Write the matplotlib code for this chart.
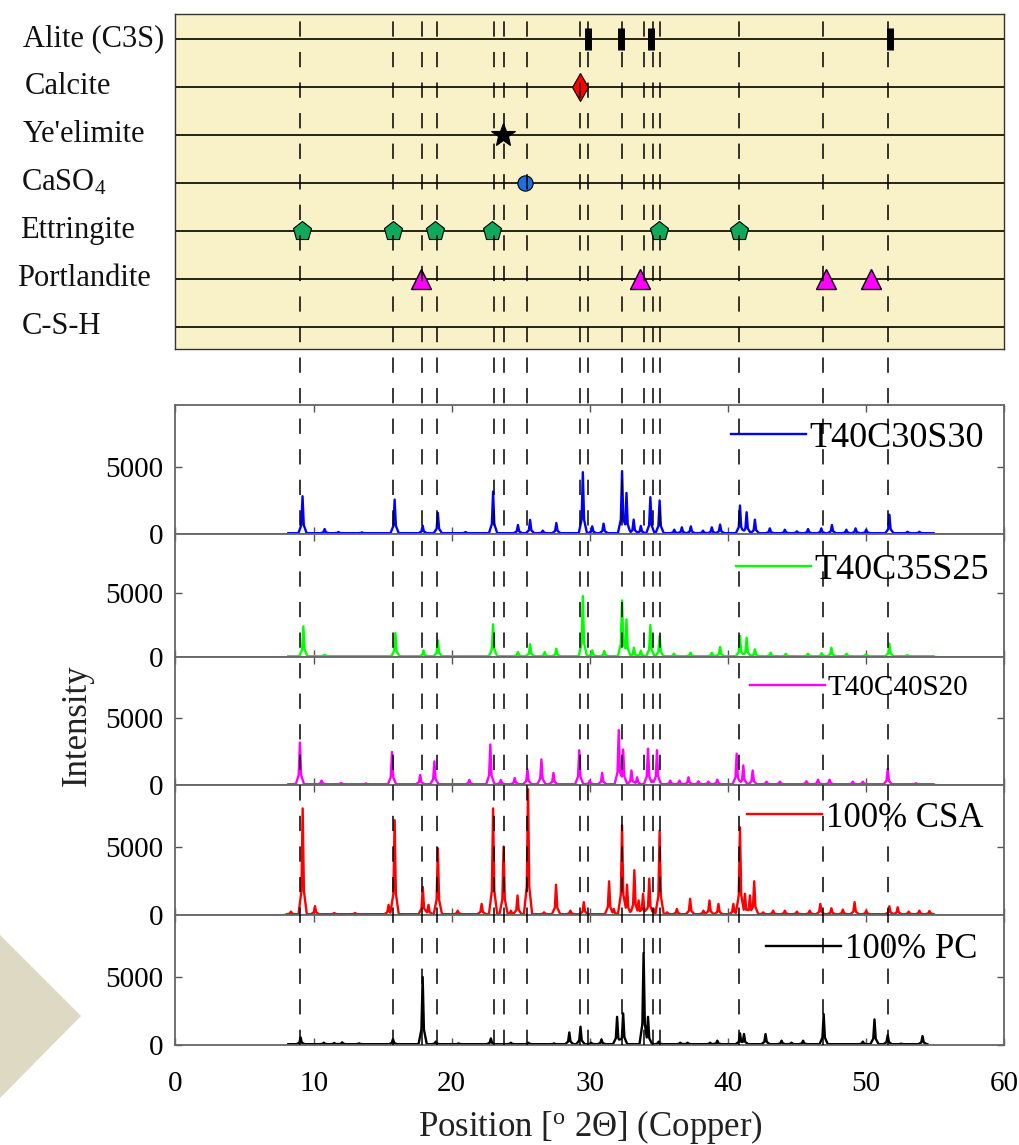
import matplotlib
matplotlib.use('Agg')
import matplotlib.pyplot as plt
import matplotlib.transforms as mtransforms
from matplotlib.patches import Polygon
import numpy as np

plt.rcParams['font.family'] = ['Liberation Serif', 'DejaVu Serif']
plt.rcParams['mathtext.fontset'] = 'custom'
plt.rcParams['mathtext.rm'] = 'Liberation Serif'
plt.rcParams['mathtext.it'] = 'Liberation Serif:italic'

##############################################################################
# Phase reference positions (degrees 2-theta)

phase_names = ['Alite (C3S)', 'Calcite', "Ye'elimite", r'CaSO$_{\mathrm{4}}$',
               'Ettringite', 'Portlandite', 'C-S-H']
alite = [29.85, 32.23, 34.42, 51.74]
calcite = [29.33]
yeelimite = [23.75]
caso4 = [25.3]
ettringite = [9.13, 15.74, 18.79, 22.93, 35.05, 40.79]
portlandite = [17.77, 33.64, 47.13, 50.4]
csh = []

ref_lines = [9.05, 15.75, 17.84, 18.93, 23.06, 23.76, 25.44, 29.28, 29.84,
             32.34, 33.95, 34.55, 35.1, 40.83, 46.89, 51.6]

##############################################################################
# Peak positions / intensities

t30_pos = [9.2, 10.8, 11.8, 13.5, 15.87, 17.9, 19.0, 21.0, 23.0, 24.8, 25.68,
           26.6, 27.58, 29.5, 30.18, 31.0, 32.34, 32.66, 33.18, 33.7, 34.39,
           35.06, 36.12, 36.67, 37.32, 38.2, 38.84, 39.44, 40.88, 41.36, 41.96,
           43.04, 44.13, 45.0, 45.81, 46.77, 47.54, 48.58, 49.25, 50.02, 51.7,
           53.02, 53.87]
t30_int = [2810, 370, 150, 120, 2560, 620, 1570, 150, 3160, 670, 1050,
           250, 820, 4600, 570, 770, 4680, 3060, 1070, 600, 2740,
           2490, 320, 500, 570, 250, 500, 700, 2120, 1620, 1070,
           420, 320, 200, 370, 420, 670, 320, 420, 320, 1440,
           170, 170]

t35_pos = [9.26, 10.8, 15.92, 17.96, 19.0, 23.0, 24.8, 25.68, 26.74, 27.58,
           29.5, 30.18, 31.05, 32.34, 32.66, 33.2, 33.7, 34.39, 35.06, 36.1,
           37.3, 38.84, 39.44, 40.88, 41.36, 41.96, 43.1, 44.2, 45.8, 46.8,
           47.5, 48.6, 50.0, 51.7, 53.0]
t35_int = [2390, 180, 1870, 520, 1300, 2550, 390, 990, 390, 650,
           4760, 520, 470, 4420, 2940, 730, 500, 2500, 1640, 260,
           340, 340, 780, 1640, 1510, 600, 340, 250, 260, 300,
           730, 260, 210, 1040, 150]

t40_pos = [9.01, 10.58, 12.0, 13.8, 15.68, 17.72, 18.75, 21.28, 22.8, 23.56,
           24.57, 25.49, 26.5, 27.37, 29.24, 30.0, 30.9, 32.1, 32.42, 33.02,
           33.43, 34.22, 34.55, 34.87, 35.83, 36.5, 37.15, 37.87, 38.59, 39.24,
           40.64, 41.12, 41.8, 42.8, 43.77, 45.69, 46.53, 47.37, 49.05, 49.78,
           51.58, 53.63]
t40_int = [3190, 330, 150, 120, 2480, 760, 1770, 380, 3040, 380,
           530, 1160, 1920, 910, 2610, 330, 910, 4120, 2660, 1090,
           580, 2730, 330, 2610, 330, 330, 580, 280, 250, 400,
           2350, 1470, 1090, 250, 250, 280, 400, 400, 250, 250,
           1210, 130]

csa_pos = [8.36, 9.21, 10.1, 11.5, 13.0, 15.43, 15.87, 17.91, 18.32, 19.0,
           20.44, 22.17, 23.0, 23.76, 24.29, 24.77, 25.53, 26.69, 27.56, 28.6,
           29.57, 31.4, 31.74, 32.34, 32.7, 33.23, 33.54, 33.86, 34.31, 34.63,
           35.06, 35.6, 36.31, 37.27, 38.23, 38.67, 39.32, 40.4, 40.88, 41.24,
           41.6, 41.91, 42.56, 43.28, 44.13, 45.0, 45.93, 46.7, 47.5, 48.33,
           49.18, 50.02, 51.7, 52.3, 53.1, 53.87, 54.6]
csa_int = [250, 7870, 650, 150, 150, 750, 7000, 2070, 750, 4930,
           320, 820, 7870, 5050, 320, 1440, 9290, 200, 2240, 320,
           950, 2490, 450, 6620, 2240, 3310, 1070, 1570, 2690, 450,
           6220, 200, 450, 1200, 320, 1070, 820, 820, 6470, 1570,
           1440, 2490, 200, 320, 320, 250, 320, 820, 500, 400,
           950, 320, 650, 570, 250, 320, 300]

pc_pos = [9.06, 10.74, 11.5, 12.07, 13.3, 15.75, 17.9, 18.85, 20.5, 22.84,
          24.29, 25.56, 27.41, 28.52, 29.33, 30.1, 30.85, 31.98, 32.42, 33.9,
          34.22, 34.99, 36.55, 37.08, 38.72, 39.24, 40.88, 41.17, 42.73, 43.89,
          44.61, 45.45, 46.94, 49.78, 50.62, 51.58, 52.55, 54.1]
pc_int = [560, 170, 150, 200, 120, 440, 5020, 250, 120, 490,
          170, 170, 120, 930, 1350, 170, 420, 2080, 2330, 6800,
          2080, 250, 170, 170, 170, 320, 860, 810, 810, 320,
          170, 320, 2280, 250, 1890, 740, 100, 660]

samples = ['T40C30S30', 'T40C35S25', 'T40C40S20', '100% CSA', '100% PC']
sample_pos = [t30_pos, t35_pos, t40_pos, csa_pos, pc_pos]
sample_int = [t30_int, t35_int, t40_int, csa_int, pc_int]
scan_end = [54.9, 54.9, 54.9, 54.8, 54.45]
colors = ['#0000ff', '#00ff00', '#ff00ff', '#ff0000', '#000000']

##############################################################################
# Layout (pixel based, figure is 1020 x 1145)

W, H = 1020, 1145
fig = plt.figure(figsize=(W / 100, H / 100), dpi=100)
left, right = 175.5, 1004.0


def rect(top, bottom):
    return [left / W, 1 - bottom / H, (right - left) / W, (bottom - top) / H]


def pattern(pos, ints, start, end, base=60):
    # each read peak drawn as a narrow top with a wider foot,
    # overlapping peaks merged by taking the upper envelope
    foot, shoulder = 0.3, 0.09
    xs = [start, end]
    for p in pos:
        xs += [p - foot, p - shoulder, p, p + shoulder, p + foot]
    xs = np.array(sorted(set(xs)))
    ys = np.full(len(xs), float(base))
    for p, h in zip(pos, ints):
        px = [p - foot, p - shoulder, p, p + shoulder, p + foot]
        py = [base, base + 0.22 * (h - base), h, base + 0.22 * (h - base), base]
        ys = np.maximum(ys, np.interp(xs, px, py, left=base, right=base))
    return xs, ys


# decorative slide shape on the left
fig.patches.append(Polygon([(0, 1 - 935 / H), (81 / W, 1 - 1016 / H), (0, 1 - 1098 / H)],
                           closed=True, transform=fig.transFigure,
                           facecolor='#ddd9c3', edgecolor='none'))

# --- phase marker panel
ax_top = fig.add_axes(rect(14, 349))
ax_top.set_facecolor('#f9f2c9')
ax_top.set_xlim(0, 60)
ax_top.set_ylim(0.535, 7.515)
ax_top.set_xticks([])
ax_top.set_yticks([])
for s in ax_top.spines.values():
    s.set_color('#333333')
    s.set_linewidth(1.0)

rows = [7, 6, 5, 4, 3, 2, 1]
for r in rows:
    ax_top.axhline(r, color='black', lw=1.2)

mk = dict(linestyle='none', markeredgecolor='black', zorder=5)
ax_top.plot(alite, [7] * len(alite), marker='|', ms=16, mew=5, color='black',
            linestyle='none', zorder=5)
ax_top.plot(calcite, [6] * len(calcite), marker='d', ms=14, mfc='#ff0000', mew=0.8, **mk)
ax_top.plot(yeelimite, [5] * len(yeelimite), marker='*', ms=18, mfc='black', mew=0.8, **mk)
ax_top.plot(caso4, [4] * len(caso4), marker='o', ms=11, mfc='#1f6fe0', mew=0.8, **mk)
ax_top.plot(ettringite, [3] * len(ettringite), marker='p', ms=14, mfc='#10a85a', mew=0.8, **mk)
ax_top.plot(portlandite, [2] * len(portlandite), marker='^', ms=15, mfc='#ff00ff', mew=1.0, **mk)
ax_top.plot(csh, [1] * len(csh), linestyle='none')

label_x = [23, 25, 23, 21, 20, 17, 22]
trans = mtransforms.blended_transform_factory(fig.transFigure, ax_top.transData)
for name, r, lx in zip(phase_names, rows, label_x):
    ax_top.text(lx / W, r, name, transform=trans, ha='left', va='center',
                fontsize=22, color='#111111')

# --- stacked diffractograms
edges = [405, 534, 657, 785, 915, 1045]
leg_x = [0.670, 0.676, 0.693, 0.690, 0.713]
leg_y = [0.744, 0.707, 0.758, 0.746, 0.731]
leg_fs = [26, 26, 21, 25, 25]

for i, name in enumerate(samples):
    ax = fig.add_axes(rect(edges[i], edges[i + 1]))
    xs, ys = pattern(sample_pos[i], sample_int[i], 8.17, scan_end[i])
    line, = ax.plot(xs, ys, color=colors[i], lw=1.7)

    ax.set_xlim(0, 60)
    ax.set_ylim(0, 9600)
    ax.set_yticks([0, 5000])
    ax.set_xticks(range(0, 61, 10))
    ax.tick_params(direction='in', top=True, right=True, length=5, width=1,
                   color='#555555', labelsize=21, pad=9)
    if i < len(samples) - 1:
        ax.tick_params(labelbottom=False)
    else:
        ax.tick_params(axis='x', pad=19)
    for s in ax.spines.values():
        s.set_color('#666666')
        s.set_linewidth(1.3)

    fs = leg_fs[i]
    ax.legend([line], [name], loc='center left', bbox_to_anchor=(leg_x[i], leg_y[i]),
              frameon=False, fontsize=fs, handlelength=75 / (fs * 100 / 72),
              handletextpad=0.1, borderpad=0, borderaxespad=0)

# --- dashed reference lines running through all panels
ax_ref = fig.add_axes(rect(14, 1045), zorder=10)
ax_ref.patch.set_visible(False)
ax_ref.set_xlim(0, 60)
ax_ref.set_ylim(0, 1)
ax_ref.axis('off')
for x in ref_lines:
    ax_ref.plot([x, x], [0, 1], color='black', lw=1.1, linestyle=(0, (10, 10)))

fig.text(77 / W, 1 - 725 / H, 'Intensity', rotation=90, ha='center', va='center',
         fontsize=25, color='#222222')
fig.text(590 / W, 1 - 1127 / H, r'Position [$^{\mathrm{o}}$ 2Θ] (Copper)',
         ha='center', va='center', fontsize=25, color='#222222')

fig.savefig('out.png', dpi=100)
